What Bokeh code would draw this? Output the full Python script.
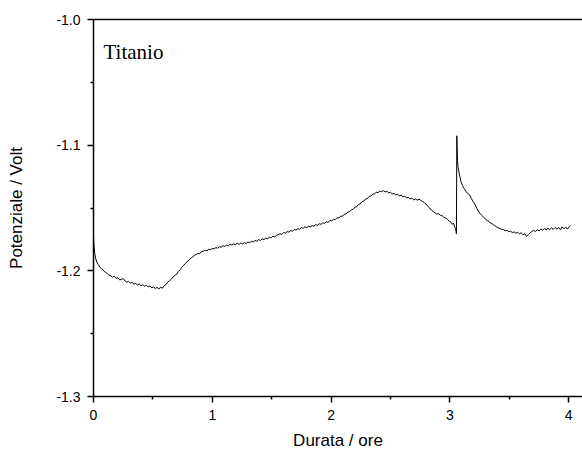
from bokeh.plotting import figure
from bokeh.models import Range1d, LinearAxis, FixedTicker, PrintfTickFormatter, Label, ColumnDataSource
from bokeh.embed import file_html
from bokeh.resources import INLINE

hours = [
    0.000, 0.004, 0.010, 0.018, 0.028, 0.040, 0.055, 0.070, 0.085, 0.100,
    0.115, 0.130, 0.145, 0.160, 0.175, 0.190, 0.205, 0.220, 0.235, 0.250,
    0.265, 0.280, 0.295, 0.310, 0.325, 0.340, 0.355, 0.370, 0.385, 0.400,
    0.415, 0.430, 0.445, 0.460, 0.475, 0.490, 0.505, 0.520, 0.535, 0.550,
    0.565, 0.580, 0.595, 0.610, 0.625, 0.640, 0.655, 0.670, 0.685, 0.700,
    0.715, 0.730, 0.745, 0.760, 0.775, 0.790, 0.805, 0.820, 0.835, 0.850,
    0.865, 0.880, 0.895, 0.910, 0.925, 0.940, 0.955, 0.970, 0.985, 1.000,
    1.015, 1.030, 1.045, 1.060, 1.075, 1.090, 1.105, 1.120, 1.135, 1.150,
    1.165, 1.180, 1.195, 1.210, 1.225, 1.240, 1.255, 1.270, 1.285, 1.300,
    1.315, 1.330, 1.345, 1.360, 1.375, 1.390, 1.405, 1.420, 1.435, 1.450,
    1.465, 1.480, 1.495, 1.510, 1.525, 1.540, 1.555, 1.570, 1.585, 1.600,
    1.615, 1.630, 1.645, 1.660, 1.675, 1.690, 1.705, 1.720, 1.735, 1.750,
    1.765, 1.780, 1.795, 1.810, 1.825, 1.840, 1.855, 1.870, 1.885, 1.900,
    1.915, 1.930, 1.945, 1.960, 1.975, 1.990, 2.005, 2.020, 2.035, 2.050,
    2.065, 2.080, 2.095, 2.110, 2.125, 2.140, 2.155, 2.170, 2.185, 2.200,
    2.215, 2.230, 2.245, 2.260, 2.275, 2.290, 2.305, 2.320, 2.335, 2.350,
    2.365, 2.380, 2.395, 2.410, 2.425, 2.440, 2.455, 2.470, 2.485, 2.500,
    2.515, 2.530, 2.545, 2.560, 2.575, 2.590, 2.605, 2.620, 2.635, 2.650,
    2.665, 2.680, 2.695, 2.710, 2.725, 2.740, 2.755, 2.770, 2.785, 2.800,
    2.815, 2.830, 2.845, 2.860, 2.875, 2.890, 2.905, 2.920, 2.935, 2.950,
    2.965, 2.980, 2.995, 3.010, 3.020, 3.030, 3.040, 3.048, 3.055, 3.058,
    3.061, 3.064, 3.068, 3.075, 3.085, 3.095, 3.105, 3.120, 3.135, 3.150,
    3.165, 3.180, 3.195, 3.210, 3.225, 3.240, 3.255, 3.270, 3.285, 3.300,
    3.315, 3.330, 3.345, 3.360, 3.375, 3.390, 3.405, 3.420, 3.435, 3.450,
    3.465, 3.480, 3.495, 3.510, 3.525, 3.540, 3.555, 3.570, 3.585, 3.600,
    3.615, 3.630, 3.645, 3.660, 3.675, 3.690, 3.705, 3.720, 3.735, 3.750,
    3.765, 3.780, 3.795, 3.810, 3.825, 3.840, 3.855, 3.870, 3.885, 3.900,
    3.915, 3.930, 3.945, 3.960, 3.975, 3.990, 4.005, 4.015,
]

potential = [
    -1.1730, -1.1800, -1.1860, -1.1900, -1.1930, -1.1950, -1.1972, -1.1985, -1.2000, -1.2012,
    -1.2020, -1.2035, -1.2040, -1.2050, -1.2042, -1.2060, -1.2055, -1.2072, -1.2068, -1.2062,
    -1.2080, -1.2090, -1.2084, -1.2098, -1.2092, -1.2105, -1.2100, -1.2112, -1.2104, -1.2118,
    -1.2110, -1.2122, -1.2115, -1.2128, -1.2120, -1.2135, -1.2128, -1.2140, -1.2132, -1.2145,
    -1.2130, -1.2138, -1.2118, -1.2110, -1.2090, -1.2078, -1.2065, -1.2050, -1.2035, -1.2028,
    -1.2005, -1.1990, -1.1970, -1.1955, -1.1940, -1.1925, -1.1915, -1.1898, -1.1890, -1.1875,
    -1.1870, -1.1860, -1.1862, -1.1848, -1.1845, -1.1835, -1.1840, -1.1828, -1.1832, -1.1822,
    -1.1826, -1.1815, -1.1820, -1.1808, -1.1812, -1.1800, -1.1806, -1.1795, -1.1800, -1.1788,
    -1.1795, -1.1785, -1.1792, -1.1780, -1.1790, -1.1778, -1.1786, -1.1775, -1.1782, -1.1770,
    -1.1776, -1.1765, -1.1770, -1.1758, -1.1765, -1.1752, -1.1758, -1.1745, -1.1752, -1.1740,
    -1.1745, -1.1732, -1.1738, -1.1725, -1.1730, -1.1718, -1.1712, -1.1705, -1.1710, -1.1695,
    -1.1700, -1.1688, -1.1692, -1.1680, -1.1685, -1.1672, -1.1676, -1.1665, -1.1670, -1.1655,
    -1.1662, -1.1650, -1.1656, -1.1645, -1.1650, -1.1640, -1.1645, -1.1632, -1.1638, -1.1625,
    -1.1630, -1.1618, -1.1622, -1.1610, -1.1614, -1.1600, -1.1603, -1.1590, -1.1592, -1.1578,
    -1.1580, -1.1565, -1.1566, -1.1550, -1.1548, -1.1532, -1.1530, -1.1515, -1.1510, -1.1494,
    -1.1490, -1.1472, -1.1468, -1.1450, -1.1445, -1.1428, -1.1425, -1.1408, -1.1405, -1.1390,
    -1.1388, -1.1375, -1.1378, -1.1365, -1.1370, -1.1362, -1.1372, -1.1368, -1.1380, -1.1375,
    -1.1388, -1.1384, -1.1396, -1.1390, -1.1405, -1.1398, -1.1410, -1.1405, -1.1420, -1.1415,
    -1.1428, -1.1422, -1.1435, -1.1428, -1.1438, -1.1430, -1.1440, -1.1448, -1.1458, -1.1470,
    -1.1488, -1.1500, -1.1518, -1.1528, -1.1540, -1.1548, -1.1545, -1.1558, -1.1562, -1.1575,
    -1.1580, -1.1592, -1.1605, -1.1615, -1.1630, -1.1620, -1.1652, -1.1665, -1.1705, -1.0925,
    -1.1030, -1.1120, -1.1170, -1.1210, -1.1255, -1.1295, -1.1320, -1.1345, -1.1368, -1.1385,
    -1.1395, -1.1425, -1.1448, -1.1470, -1.1500, -1.1525, -1.1545, -1.1560, -1.1575, -1.1590,
    -1.1600, -1.1610, -1.1620, -1.1630, -1.1640, -1.1648, -1.1658, -1.1662, -1.1670, -1.1672,
    -1.1680, -1.1678, -1.1688, -1.1684, -1.1695, -1.1690, -1.1700, -1.1694, -1.1705, -1.1698,
    -1.1712, -1.1705, -1.1725, -1.1712, -1.1700, -1.1685, -1.1678, -1.1688, -1.1672, -1.1682,
    -1.1668, -1.1678, -1.1662, -1.1675, -1.1660, -1.1672, -1.1658, -1.1670, -1.1655, -1.1668,
    -1.1655, -1.1672, -1.1650, -1.1665, -1.1652, -1.1668, -1.1648, -1.1640,
]

x_ticks = [0, 1, 2, 3, 4]
x_minor = [0.5, 1.5, 2.5, 3.5]
y_ticks = [-1.3, -1.2, -1.1, -1.0]
y_minor = [-1.25, -1.15, -1.05]

x_title = "Durata / ore"
y_title = "Potenziale / Volt"
annotation = "Titanio"

SANS = "Liberation Sans"
SERIF = "Liberation Serif"

p = figure(
    width=582, height=454,
    x_range=Range1d(0, 4.116), y_range=Range1d(-1.3, -1.0),
    output_backend="svg", toolbar_location=None,
    min_border_left=93, min_border_right=0, min_border_top=19, min_border_bottom=58,
)
p.outline_line_color = None
p.xgrid.visible = False
p.ygrid.visible = False
p.background_fill_color = "white"
p.border_fill_color = "white"

src = ColumnDataSource(data=dict(h=hours, v=potential))
p.line("h", "v", source=src, line_color="black", line_width=1)

for ax in (p.xaxis[0], p.yaxis[0]):
    ax.axis_line_color = "black"
    ax.axis_line_width = 1.5
    ax.major_tick_line_color = "black"
    ax.major_tick_line_width = 1.5
    ax.minor_tick_line_color = "black"
    ax.minor_tick_line_width = 1.5
    ax.major_tick_in = 0
    ax.minor_tick_in = 0
    ax.major_tick_out = 6
    ax.minor_tick_out = 3
    ax.major_label_text_font = SANS
    ax.major_label_text_font_size = "14px"
    ax.major_label_text_color = "black"
    ax.axis_label_text_font = SANS
    ax.axis_label_text_font_size = "17px"
    ax.axis_label_text_font_style = "normal"
    ax.axis_label_text_color = "black"
    ax.major_label_standoff = 7

p.xaxis[0].ticker = FixedTicker(ticks=x_ticks, minor_ticks=x_minor)
p.xaxis[0].formatter = PrintfTickFormatter(format="%d")
p.xaxis[0].axis_label = x_title
p.xaxis[0].axis_label_standoff = 8

p.yaxis[0].ticker = FixedTicker(ticks=y_ticks, minor_ticks=y_minor)
p.yaxis[0].formatter = PrintfTickFormatter(format="%.1f")
p.yaxis[0].axis_label = y_title
p.yaxis[0].axis_label_standoff = 27

top = LinearAxis(ticker=FixedTicker(ticks=[]), axis_line_color="black", axis_line_width=1.5,
                 major_tick_line_color=None, minor_tick_line_color=None,
                 major_label_text_font_size="0px")
p.add_layout(top, "above")

p.add_layout(Label(x=0.084, y=-1.0255, text=annotation, text_font=SERIF,
                   text_font_size="21px", text_color="black", text_baseline="alphabetic"))

open("out.html", "w").write(file_html(p, INLINE))
